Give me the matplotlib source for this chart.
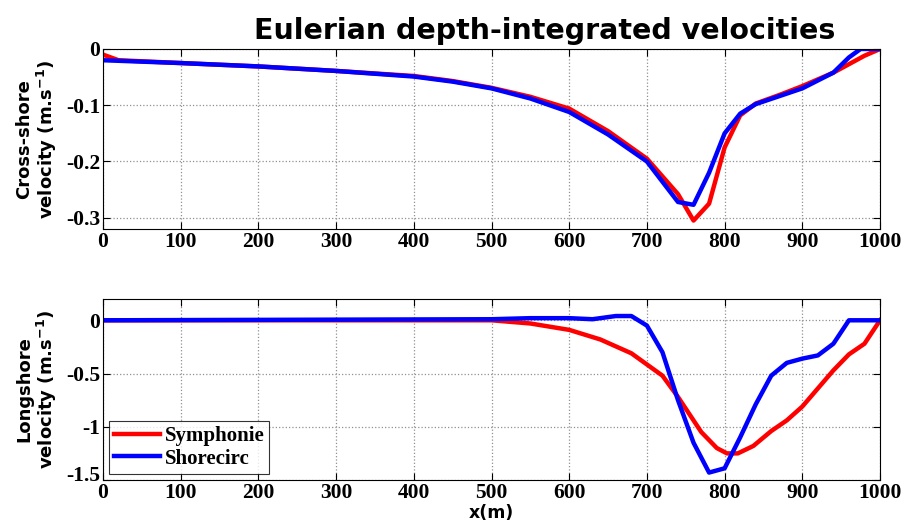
import matplotlib
matplotlib.use("Agg")
import matplotlib.pyplot as plt
from matplotlib.transforms import ScaledTranslation

# Cross-shore velocity
x_cs_sym = [0, 20, 100, 200, 300, 400, 450, 500, 550, 600, 650, 700, 740, 760, 780, 800, 820, 840, 870, 900, 940, 980, 1000]
cs_sym = [-0.010, -0.020, -0.025, -0.031, -0.039, -0.048, -0.057, -0.069, -0.085, -0.106, -0.146, -0.195, -0.258, -0.305, -0.275, -0.175, -0.118, -0.097, -0.082, -0.066, -0.042, -0.012, 0.0]
x_cs_shc = [0, 20, 100, 200, 300, 400, 450, 500, 550, 600, 650, 700, 740, 760, 780, 800, 820, 840, 870, 900, 940, 960, 975, 1000]
cs_shc = [-0.020, -0.021, -0.025, -0.031, -0.039, -0.049, -0.058, -0.070, -0.088, -0.112, -0.152, -0.200, -0.272, -0.277, -0.220, -0.150, -0.115, -0.098, -0.084, -0.070, -0.042, -0.015, 0.0, 0.0]

# Longshore velocity
x_ls_sym = [0, 500, 550, 600, 640, 680, 720, 740, 770, 790, 803, 817, 837, 860, 880, 900, 920, 940, 960, 980, 1000]
ls_sym = [0.0, 0.0, -0.03, -0.09, -0.18, -0.31, -0.52, -0.72, -1.05, -1.20, -1.25, -1.25, -1.18, -1.04, -0.94, -0.81, -0.64, -0.47, -0.32, -0.22, 0.0]
x_ls_shc = [0, 500, 550, 600, 630, 660, 680, 700, 720, 740, 760, 780, 800, 820, 840, 860, 880, 900, 920, 940, 960, 980, 1000]
ls_shc = [0.0, 0.01, 0.02, 0.02, 0.01, 0.04, 0.04, -0.05, -0.30, -0.75, -1.15, -1.43, -1.39, -1.10, -0.79, -0.52, -0.40, -0.36, -0.33, -0.22, 0.0, 0.0, 0.0]

labels = ["Symphonie", "Shorecirc"]
colors = ["#ff0000", "#0000ff"]

xticks = [0, 100, 200, 300, 400, 500, 600, 700, 800, 900, 1000]
cs_yticks = [0, -0.1, -0.2, -0.3]
cs_yticklabels = ["0", "-0.1", "-0.2", "-0.3"]
ls_yticks = [0, -0.5, -1, -1.5]
ls_yticklabels = ["0", "-0.5", "-1", "-1.5"]

fig = plt.figure(figsize=(9.05, 5.29), dpi=100)
ax1 = fig.add_axes([0.1138, 0.5671, 0.8586, 0.3403])
ax2 = fig.add_axes([0.1138, 0.0926, 0.8586, 0.3422])

tickfont = dict(family="Liberation Serif", weight="bold", size=15.5)
lw = 3.2

for ax in (ax1, ax2):
    ax.set_xlim(0, 1000)
    ax.set_xticks(xticks)
    ax.set_xticklabels([str(t) for t in xticks], **tickfont)
    ax.grid(True, linestyle=":", color="#909090", linewidth=0.9)
    ax.tick_params(direction="in", length=5, top=True, right=True, width=0.8, pad=2)
    for s in ax.spines.values():
        s.set_linewidth(0.8)

ax1.plot(x_cs_sym, cs_sym, color=colors[0], lw=lw, label=labels[0])
ax1.plot(x_cs_shc, cs_shc, color=colors[1], lw=lw, label=labels[1])
ax1.set_ylim(-0.32, 0)
ax1.set_yticks(cs_yticks)
ax1.set_yticklabels(cs_yticklabels, **tickfont)
ax1.set_ylabel("Cross-shore\nvelocity (m.s$^{\\mathbf{-1}}$)", family="DejaVu Sans", weight="heavy", size=13, labelpad=5, linespacing=1.1)
ax1.set_title("Eulerian depth-integrated velocities", family="DejaVu Sans", weight="heavy", size=20.5, pad=7, x=0.568)

ax2.plot(x_ls_sym, ls_sym, color=colors[0], lw=lw, label=labels[0])
ax2.plot(x_ls_shc, ls_shc, color=colors[1], lw=lw, label=labels[1])
ax2.set_ylim(-1.5, 0.2)
ax2.set_yticks(ls_yticks)
ax2.set_yticklabels(ls_yticklabels, **tickfont)
ax2.set_ylabel("Longshore\nvelocity (m.s$^{\\mathbf{-1}}$)", family="DejaVu Sans", weight="heavy", size=13, labelpad=5, linespacing=1.1)
ax2.set_xlabel("x(m)", family="DejaVu Sans", weight="bold", size=12.5, labelpad=1)

# lift the lowest y tick label slightly, as in the reference, so it clears the x "0"
lowlab = ax2.get_yticklabels()[-1]
lowlab.set_transform(lowlab.get_transform() + ScaledTranslation(0, 5 / 72, fig.dpi_scale_trans))

leg = ax2.legend(loc="lower left", prop=dict(family="Liberation Serif", weight="bold", size=15),
                 frameon=True, fancybox=False, edgecolor="black", handlelength=2.2,
                 handletextpad=0.2, borderpad=0.25, labelspacing=0.1, borderaxespad=0.3)
leg.get_frame().set_linewidth(0.8)

fig.savefig("out.png", dpi=100)
